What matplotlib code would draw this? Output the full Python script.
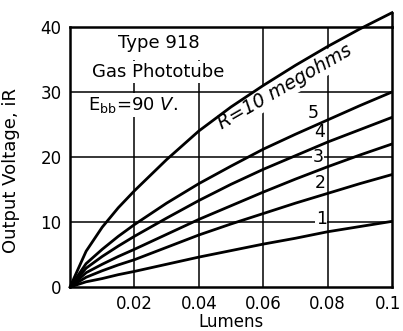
import matplotlib
matplotlib.use("Agg")
import matplotlib.pyplot as plt
from matplotlib.transforms import ScaledTranslation

# Values
lumens = [0.0, 0.005, 0.01, 0.015, 0.02, 0.03, 0.04, 0.05, 0.06, 0.07, 0.08, 0.09, 0.1]
curves = {
    "10": [0.0, 5.5, 9.2, 12.2, 14.8, 19.6, 24.0, 27.7, 31.0, 34.1, 37.0, 39.7, 42.2],
    "5": [0.0, 3.6, 5.8, 7.8, 9.6, 12.9, 15.9, 18.6, 21.2, 23.5, 25.7, 27.9, 30.0],
    "4": [0.0, 2.9, 4.7, 6.3, 7.8, 10.6, 13.3, 15.8, 18.1, 20.2, 22.3, 24.2, 26.1],
    "3": [0.0, 2.2, 3.5, 4.7, 5.8, 8.1, 10.4, 12.5, 14.6, 16.6, 18.5, 20.3, 22.0],
    "2": [0.0, 1.5, 2.5, 3.4, 4.2, 6.1, 8.0, 9.7, 11.3, 12.9, 14.4, 15.9, 17.3],
    "1": [0.0, 0.8, 1.3, 1.9, 2.4, 3.5, 4.6, 5.6, 6.6, 7.5, 8.5, 9.3, 10.1],
}
x_ticks = [0.02, 0.04, 0.06, 0.08, 0.1]
x_tick_labels = ["0.02", "0.04", "0.06", "0.08", "0.1"]
y_ticks = [0, 10, 20, 30, 40]

# label positions for the small curve numbers (data coords)
num_labels = {"5": (0.0755, 26.8), "4": (0.0776, 23.8), "3": (0.077, 20.0),
              "2": (0.0776, 16.0), "1": (0.078, 10.5)}

plt.rcParams["font.family"] = "DejaVu Sans"

fig = plt.figure(figsize=(4.03, 3.31), dpi=100)
ax = fig.add_axes([0.1737, 0.1329, 0.799, 0.7855])

ax.set_xlim(0, 0.1)
ax.set_ylim(0, 40)

# grid
for xv in x_ticks[:-1]:
    ax.axvline(xv, color="black", lw=1.1, zorder=1)
for yv in y_ticks[1:-1]:
    ax.axhline(yv, color="black", lw=1.1, zorder=1)

# curves
for name, vals in curves.items():
    ax.plot(lumens, vals, color="black", lw=2.0, zorder=3,
            clip_on=(name != "10"), solid_joinstyle="round")

# right edge continues up to meet the 10 megohm curve
ax.plot([lumens[-1], lumens[-1]], [40, curves["10"][-1]], color="black",
        lw=1.8, clip_on=False, zorder=3)

for s in ax.spines.values():
    s.set_linewidth(1.8)

ax.set_xticks(x_ticks)
ax.set_xticklabels(x_tick_labels)
ax.set_yticks(y_ticks)
ax.tick_params(length=0, labelsize=12, pad=6)

# keep the last x label inside the picture
last = ax.get_xticklabels()[-1]
last.set_transform(last.get_transform() + ScaledTranslation(-3 / 72, 0, fig.dpi_scale_trans))

ax.set_xlabel("Lumens", fontsize=12, labelpad=0)
ax.set_ylabel("Output Voltage, iR", fontsize=13)
ax.yaxis.set_label_coords(-0.155, 0.45)

white = dict(facecolor="white", edgecolor="none", pad=1.5)

ax.text(0.0275, 37.6, "Type 918", fontsize=13, ha="center", va="center",
        zorder=2, bbox=dict(facecolor="white", edgecolor="none", pad=6))
ax.text(0.0275, 33.1, "Gas Phototube", fontsize=13, ha="center", va="center",
        zorder=2, bbox=white)
ax.text(0.0055, 28.0, r"E$_{\mathrm{bb}}$=$\mathit{90\ V.}$", fontsize=13,
        ha="left", va="center", zorder=2, bbox=white)

ax.text(0.0668, 30.8, "R=10 megohms", fontsize=13.5, style="italic",
        rotation=30, rotation_mode="anchor", ha="center", va="center",
        zorder=2, bbox=white)

for name, (xv, yv) in num_labels.items():
    ax.text(xv, yv, name, fontsize=12.5, ha="center", va="center", zorder=2,
            bbox=dict(facecolor="white", edgecolor="none", pad=0.5))

fig.savefig("out.png", dpi=100)
